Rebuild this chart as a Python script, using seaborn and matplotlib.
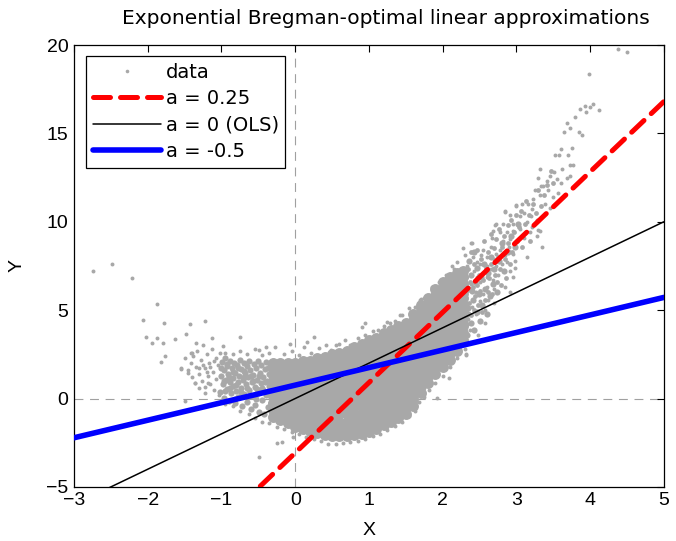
import matplotlib
matplotlib.use("Agg")
import matplotlib.pyplot as plt
import seaborn as sns
import pandas as pd
from matplotlib.lines import Line2D

# ---------------- data ----------------
# mottled parts of the cloud (left of x = -0.3 and right of x = 2.3)
medium_points = [
    (-1.02, 0.35), (-1.01, 1.25), (-0.99, 2.05), (-0.98, 0.8), (-0.97, 1.6),
    (-0.96, 0.05), (-0.95, 2.3), (-0.94, 1.05), (-0.93, 0.55), (-0.92, 1.85),
    (-0.91, 1.4), (-0.90, -0.15), (-0.89, 0.95), (-0.88, 2.15), (-0.87, 0.3),
    (-0.86, 1.7), (-0.85, 1.15), (-0.84, 0.7), (-0.83, 2.0), (-0.82, -0.25),
    (-0.81, 1.45), (-0.80, 0.45), (-0.79, 1.9), (-0.78, 0.95), (-0.77, 0.1),
    (-0.76, 1.25), (-0.75, 2.2), (-0.74, 0.6), (-0.73, 1.65), (-0.72, -0.4),
    (-0.71, 1.05), (-0.70, 2.0), (-0.69, 0.25), (-0.68, 1.45), (-0.67, 0.8),
    (-0.66, 1.85), (-0.65, -0.2), (-0.64, 1.2), (-0.63, 0.5), (-0.62, 2.15),
    (-0.61, 1.6), (-0.60, -0.6), (-0.59, 0.95), (-0.58, 0.15), (-0.57, 1.35),
    (-0.56, 1.95), (-0.55, 0.65), (-0.54, -0.35), (-0.53, 1.7), (-0.52, 1.05),
    (-0.51, 2.1), (-0.50, 0.3), (-0.49, -0.75), (-0.48, 1.45), (-0.47, 0.85),
    (-0.46, 1.9), (-0.45, -0.1), (-0.44, 1.2), (-0.43, 0.5), (-0.42, -0.9),
    (-0.41, 1.65), (-0.40, 2.05), (-0.39, 0.2), (-0.38, 1.0), (-0.37, -0.5),
    (-0.36, 1.4), (-0.35, 0.7), (-0.34, 1.85), (-0.33, -0.25), (-0.32, 1.15),
    (-0.31, -1.0), (-0.30, 0.45),
    (-0.97, 1.0), (-0.93, 1.95), (-0.89, 0.6), (-0.85, 1.5), (-0.81, 0.0),
    (-0.77, 1.7), (-0.73, 0.35), (-0.69, 1.2), (-0.65, 0.6), (-0.61, 0.2),
    (-0.57, 1.0), (-0.53, 0.0), (-0.49, 1.25), (-0.45, 0.6), (-0.41, 0.95),
    (-0.37, 1.75), (-0.33, 0.9), (-0.52, 0.55), (-0.60, 1.3), (-0.70, 1.55),
    (-0.80, 0.75), (-0.90, 1.2), (-1.00, 1.75), (-0.95, 0.4),
    (2.33, 3.6), (2.35, 5.1), (2.36, 6.2), (2.38, 4.3), (2.39, 7.0),
    (2.41, 5.6), (2.43, 3.9), (2.44, 6.6), (2.46, 4.9), (2.47, 7.4),
    (2.49, 5.9), (2.51, 4.4), (2.52, 6.9), (2.54, 5.3), (2.56, 7.6),
    (2.58, 6.2), (2.60, 4.8), (2.62, 7.1), (2.64, 5.8), (2.66, 8.0),
    (2.68, 6.5), (2.70, 7.3), (2.74, 6.0), (2.76, 7.8), (2.80, 8.8),
    (2.83, 7.2), (2.88, 8.3), (2.93, 9.2), (2.98, 8.6), (3.02, 9.9),
    (2.36, 7.8), (2.42, 8.3), (2.34, 4.8), (2.40, 6.1),
]

# the rising tail around the a = 0.25 line
tail_points = [
    (2.31, 5.9), (2.32, 6.9), (2.33, 4.2), (2.34, 7.3), (2.36, 5.4),
    (2.37, 6.6), (2.38, 8.3), (2.39, 4.7), (2.41, 6.3), (2.42, 5.0),
    (2.43, 7.6), (2.44, 5.8), (2.46, 6.4), (2.47, 8.4), (2.48, 5.3),
    (2.49, 7.0), (2.51, 6.1), (2.52, 7.9), (2.53, 4.9), (2.55, 6.7),
    (2.56, 8.9), (2.57, 5.6), (2.59, 7.4), (2.61, 6.0), (2.62, 8.3),
    (2.63, 6.8), (2.65, 9.3), (2.66, 7.6), (2.67, 5.9), (2.69, 8.5),
    (2.71, 7.0), (2.72, 9.0), (2.74, 6.6), (2.75, 8.0), (2.77, 9.6),
    (2.78, 7.3), (2.79, 6.4), (2.81, 8.6), (2.83, 9.2), (2.84, 7.9),
    (2.86, 6.8), (2.88, 9.8), (2.89, 8.8), (2.91, 7.6), (2.93, 10.1),
    (2.94, 8.3), (2.97, 9.4), (2.99, 10.4), (3.01, 8.9), (3.03, 9.7),
    (3.06, 10.6), (3.08, 8.6), (3.12, 9.9), (3.13, 11.2), (3.17, 10.4),
    (3.19, 8.9), (3.22, 11.0), (3.26, 10.5), (3.30, 11.8), (3.34, 10.9),
    (3.38, 11.5), (3.42, 12.1), (3.47, 12.9), (3.50, 12.2),
]

# dense core of the cloud: (x, [y values]) read column by column
core_columns = [
    (-0.30, [-1.05, -0.65, -0.25, 0.15, 0.55, 0.95, 1.35, 1.75, 2.0]),
    (-0.20, [-1.2, -0.8, -0.4, 0.0, 0.4, 0.8, 1.2, 1.6, 2.0]),
    (-0.10, [-1.4, -1.0, -0.6, -0.2, 0.2, 0.6, 1.0, 1.4, 1.8, 2.0]),
    (0.00, [-1.6, -1.2, -0.8, -0.4, 0.0, 0.4, 0.8, 1.2, 1.6, 2.0]),
    (0.10, [-1.7, -1.3, -0.9, -0.5, -0.1, 0.3, 0.7, 1.1, 1.5, 1.9, 2.1]),
    (0.20, [-1.85, -1.45, -1.05, -0.65, -0.25, 0.15, 0.55, 0.95, 1.35, 1.75, 2.15]),
    (0.30, [-1.95, -1.55, -1.15, -0.75, -0.35, 0.05, 0.45, 0.85, 1.25, 1.65, 2.05, 2.3]),
    (0.40, [-2.05, -1.65, -1.25, -0.85, -0.45, -0.05, 0.35, 0.75, 1.15, 1.55, 1.95, 2.35]),
    (0.50, [-2.1, -1.7, -1.3, -0.9, -0.5, -0.1, 0.3, 0.7, 1.1, 1.5, 1.9, 2.3, 2.5]),
    (0.60, [-2.1, -1.7, -1.3, -0.9, -0.5, -0.1, 0.3, 0.7, 1.1, 1.5, 1.9, 2.3, 2.6]),
    (0.70, [-2.1, -1.7, -1.3, -0.9, -0.5, -0.1, 0.3, 0.7, 1.1, 1.5, 1.9, 2.3, 2.7]),
    (0.80, [-2.05, -1.65, -1.25, -0.85, -0.45, -0.05, 0.35, 0.75, 1.15, 1.55, 1.95, 2.35, 2.75, 2.9]),
    (0.90, [-2.0, -1.6, -1.2, -0.8, -0.4, 0.0, 0.4, 0.8, 1.2, 1.6, 2.0, 2.4, 2.8, 3.1]),
    (1.00, [-1.9, -1.5, -1.1, -0.7, -0.3, 0.1, 0.5, 0.9, 1.3, 1.7, 2.1, 2.5, 2.9, 3.3]),
    (1.10, [-1.75, -1.35, -0.95, -0.55, -0.15, 0.25, 0.65, 1.05, 1.45, 1.85, 2.25, 2.65, 3.05, 3.45]),
    (1.20, [-1.5, -1.1, -0.7, -0.3, 0.1, 0.5, 0.9, 1.3, 1.7, 2.1, 2.5, 2.9, 3.3, 3.7]),
    (1.30, [-1.3, -0.9, -0.5, -0.1, 0.3, 0.7, 1.1, 1.5, 1.9, 2.3, 2.7, 3.1, 3.5, 3.9]),
    (1.40, [-1.1, -0.7, -0.3, 0.1, 0.5, 0.9, 1.3, 1.7, 2.1, 2.5, 2.9, 3.3, 3.7, 4.1]),
    (1.50, [-0.9, -0.5, -0.1, 0.3, 0.7, 1.1, 1.5, 1.9, 2.3, 2.7, 3.1, 3.5, 3.9, 4.3]),
    (1.60, [-0.4, 0.0, 0.4, 0.8, 1.2, 1.6, 2.0, 2.4, 2.8, 3.2, 3.6, 4.0, 4.4, 4.8]),
    (1.70, [0.3, 0.7, 1.1, 1.5, 1.9, 2.3, 2.7, 3.1, 3.5, 3.9, 4.3, 4.7, 5.1, 5.3]),
    (1.80, [0.9, 1.3, 1.7, 2.1, 2.5, 2.9, 3.3, 3.7, 4.1, 4.5, 4.9, 5.3, 5.7]),
    (1.90, [1.4, 1.8, 2.2, 2.6, 3.0, 3.4, 3.8, 4.2, 4.6, 5.0, 5.4, 5.8, 6.2]),
    (2.00, [1.8, 2.2, 2.6, 3.0, 3.4, 3.8, 4.2, 4.6, 5.0, 5.4, 5.8, 6.2, 6.6]),
    (2.10, [2.2, 2.6, 3.0, 3.4, 3.8, 4.2, 4.6, 5.0, 5.4, 5.8, 6.2, 6.6, 6.9]),
    (2.20, [2.7, 3.1, 3.5, 3.9, 4.3, 4.7, 5.1, 5.5, 5.9, 6.3, 6.7, 7.1]),
    (2.28, [3.3, 3.7, 4.1, 4.5, 4.9, 5.3, 5.7, 6.1, 6.5, 6.9, 7.2]),
]

# sparse individual points (edges, tails and outliers)
sparse_points = [
    # far-left tail
    (-2.74, 7.23), (-2.48, 7.61), (-2.22, 6.84), (-1.88, 5.33), (-2.06, 4.45),
    (-1.78, 4.26), (-1.43, 4.22), (-1.22, 4.41), (-2.02, 3.47), (-1.87, 3.45),
    (-1.94, 3.13), (-1.79, 3.13), (-1.63, 3.37), (-1.48, 3.65), (-1.34, 3.16),
    (-1.76, 2.41), (-1.82, 2.05), (-1.42, 2.60), (-1.55, 1.67), (-1.46, 1.43),
    (-1.50, -0.12), (-1.36, 0.87), (-1.23, 0.67),
    # left cluster
    (-1.45, 1.6), (-1.42, 2.0), (-1.40, 1.2), (-1.38, 2.4), (-1.36, 0.9),
    (-1.35, 1.8), (-1.33, 2.7), (-1.31, 1.4), (-1.30, 0.6), (-1.28, 2.2),
    (-1.26, 1.0), (-1.25, 3.0), (-1.23, 1.7), (-1.22, 0.3), (-1.20, 2.5),
    (-1.18, 1.3), (-1.17, 2.0), (-1.15, 0.8), (-1.13, 2.8), (-1.12, 1.5),
    (-1.10, 0.5), (-1.08, 2.3), (-1.07, 1.1), (-1.05, 1.9), (-1.04, 0.2),
    (-1.02, 2.6), (-1.25, 1.9), (-1.20, 1.5), (-1.15, 1.8), (-1.10, 2.1),
    (-1.30, 1.75), (-1.18, 0.9), (-1.40, 2.6), (-1.50, 2.3), (-1.55, 1.7),
    (-1.13, 3.41), (-0.98, 2.98), (-0.75, 3.50), (-0.40, 2.90), (-0.49, 2.75),
    # upper edge
    (-0.95, 2.6), (-0.85, 2.5), (-0.75, 2.7), (-0.65, 2.5), (-0.55, 2.8),
    (-0.45, 2.45), (-0.35, 2.6), (-0.28, 2.9), (-0.15, 2.5), (-0.05, 2.7),
    (0.05, 2.45), (0.12, 2.9), (0.22, 2.6), (0.32, 2.85), (0.42, 3.0),
    (0.48, 2.75), (0.60, 3.1), (0.68, 3.3), (0.75, 3.0), (0.85, 3.4),
    (0.95, 3.6), (1.05, 3.8), (1.12, 3.9), (1.20, 4.1), (1.28, 4.3),
    (1.35, 4.4), (1.45, 4.7), (1.55, 5.1), (1.62, 5.2), (1.75, 5.7),
    (1.85, 6.3), (1.95, 6.6), (2.05, 7.0), (2.15, 7.3),
    (0.16, 3.22), (0.25, 3.47), (-0.07, 3.09), (0.56, 3.03), (0.90, 4.03),
    (0.95, 4.26), (1.24, 4.35), (1.42, 4.73), (1.69, 5.58), (1.71, 5.63),
    (1.58, 4.73),
    # lower edge
    (-0.95, -0.3), (-0.85, -0.45), (-0.75, -0.7), (-0.62, -0.9), (-0.55, -1.1),
    (-0.45, -1.3), (-0.35, -1.4), (-0.25, -1.6), (-0.15, -1.75), (-0.05, -1.9),
    (0.05, -2.0), (0.15, -2.15), (0.25, -2.3), (0.35, -2.4), (0.45, -2.55),
    (0.55, -2.6), (0.65, -2.5), (0.75, -2.45), (0.85, -2.4), (0.95, -2.3),
    (1.05, -2.1), (1.15, -2.0), (1.25, -1.8), (1.35, -1.55), (1.45, -1.3),
    (1.55, -1.0), (1.62, -0.7), (1.68, -0.2), (1.75, 0.1), (1.82, 0.5),
    (1.90, 0.9), (2.00, 1.3), (2.10, 1.8), (2.20, 2.3), (2.30, 2.8),
    (-0.49, -3.30), (-0.25, -2.53), (-0.18, -2.44), (-0.03, -2.15), (1.92, 0.02),
    (2.08, 1.15), (2.32, 2.47), (2.37, 3.88), (2.57, 4.26), (2.32, 2.52),
    # upper-right tail
    (2.27, 8.5), (2.40, 8.8), (2.55, 8.4), (2.60, 8.0), (2.73, 8.2),
    (2.96, 8.2), (2.98, 7.8), (2.87, 7.7), (2.73, 7.5), (2.60, 7.5),
    (2.46, 7.7), (2.41, 8.0), (2.33, 7.5), (2.12, 7.5), (2.19, 6.9),
    (1.96, 6.1), (2.06, 6.0), (2.46, 6.9), (2.68, 6.7), (2.85, 6.3),
    (2.91, 6.0), (2.60, 6.3), (2.73, 9.9), (2.68, 9.5), (2.78, 9.4),
    (2.87, 9.4), (2.91, 9.0), (2.82, 8.9), (2.67, 9.1), (2.85, 10.6),
    (2.91, 10.4), (3.05, 10.3), (2.96, 9.9), (3.28, 10.1), (3.21, 9.7),
    (3.32, 9.5), (3.28, 9.2), (3.35, 8.6), (3.07, 11.0), (3.00, 10.9),
    (3.21, 10.7), (3.11, 10.5), (3.16, 11.0), (3.39, 11.0), (3.45, 10.8),
    (3.23, 11.3), (3.32, 11.5), (3.56, 11.6), (3.49, 11.4), (3.34, 12.0),
    (3.43, 11.8), (3.41, 12.3), (3.29, 12.5), (3.73, 12.6), (3.68, 12.5),
    (3.51, 12.8), (3.32, 13.0), (3.73, 13.2), (3.77, 13.2), (3.53, 13.8),
    (3.58, 13.8), (3.70, 13.8), (3.76, 14.2), (3.89, 14.9), (3.64, 15.1),
    (3.73, 15.3), (3.68, 15.6), (3.80, 15.9), (3.86, 16.4), (3.93, 16.55),
    (4.04, 16.65), (4.12, 16.3), (3.98, 18.36), (4.38, 19.77), (4.50, 19.6),
    (2.71, 9.82), (2.85, 10.57), (3.00, 10.95), (3.30, 9.54), (3.36, 12.0),
    (3.61, 12.2), (2.98, 7.37), (3.14, 8.03), (2.96, 6.9), (2.39, 8.82),
    (2.35, 4.5), (2.40, 5.2), (2.45, 6.0), (2.50, 5.5), (2.50, 6.6),
    (2.55, 7.1), (2.45, 4.8), (2.55, 5.9), (2.60, 6.9), (2.65, 7.3),
    (2.70, 7.9), (2.62, 5.6), (2.70, 6.2), (2.75, 7.0), (2.80, 7.6),
    (2.78, 8.4), (2.85, 8.1), (2.90, 8.6), (2.92, 7.2), (2.50, 7.6),
    (2.42, 7.2), (2.38, 6.5), (2.52, 8.1), (2.65, 8.6), (2.82, 9.9),
    (2.95, 9.5), (3.05, 9.6), (3.10, 9.1), (3.15, 10.0), (3.20, 10.3),
    (3.25, 11.8), (3.18, 9.4), (3.45, 12.6), (3.55, 12.4), (3.62, 13.0),
    (3.60, 14.1), (3.85, 15.1), (3.95, 16.2), (4.00, 16.5), (2.30, 8.1),
    (2.20, 7.7), (2.48, 3.6), (2.58, 5.0), (2.70, 5.4),
]

# fitted lines (end points read at x = -3 and x = 5)
line_x = [-3.0, 5.0]
fit_025_y = [-15.0, 16.8]    # a = 0.25
fit_0_y = [-6.0, 10.0]       # a = 0 (OLS)
fit_m05_y = [-2.22, 5.72]    # a = -0.5

legend_labels = ["data", "a = 0.25", "a = 0 (OLS)", "a = -0.5"]
x_ticks = [-3, -2, -1, 0, 1, 2, 3, 4, 5]
y_ticks = [-5, 0, 5, 10, 15, 20]

# ---------------- plotting ----------------
sns.set_theme(style="white")
plt.rcParams["font.family"] = ["Liberation Sans", "DejaVu Sans"]
plt.rcParams["text.color"] = "black"
plt.rcParams["axes.labelcolor"] = "black"

medium_df = pd.DataFrame(medium_points, columns=["x", "y"])
tail_df = pd.DataFrame(tail_points, columns=["x", "y"])
core_df = pd.DataFrame(
    [(cx, cy) for cx, ys in core_columns for cy in ys], columns=["x", "y"]
)
sparse_df = pd.DataFrame(sparse_points, columns=["x", "y"])

fig = plt.figure(figsize=(6.76, 5.41), dpi=100)
ax = fig.add_axes([0.1095, 0.100, 0.8725, 0.8168])

gray = "#a8a8a8"
ax.axvline(0, color="#a0a0a0", lw=0.8, dashes=(8, 6), zorder=0)
ax.axhline(0, color="#a0a0a0", lw=0.8, dashes=(8, 6), zorder=0)

sns.scatterplot(data=medium_df, x="x", y="y", ax=ax, color=gray, s=20,
                linewidth=0, zorder=1, legend=False)
sns.scatterplot(data=tail_df, x="x", y="y", ax=ax, color=gray, s=12,
                linewidth=0, zorder=1, legend=False)
sns.scatterplot(data=core_df, x="x", y="y", ax=ax, color=gray, s=62,
                linewidth=0, zorder=1, legend=False)
sns.scatterplot(data=sparse_df, x="x", y="y", ax=ax, color=gray, s=8,
                linewidth=0, zorder=1, legend=False)

l1, = ax.plot(line_x, fit_025_y, color="red", lw=3.6, dashes=(3.4, 2.0),
              solid_capstyle="butt", dash_capstyle="round", zorder=3)
l2, = ax.plot(line_x, fit_0_y, color="black", lw=1.1, zorder=3)
l3, = ax.plot(line_x, fit_m05_y, color="blue", lw=4.0, zorder=3)

ax.set_xlim(-3, 5)
ax.set_ylim(-5, 20)
ax.set_xticks(x_ticks)
ax.set_yticks(y_ticks)
ax.tick_params(direction="in", length=5, width=0.8, top=True, right=True,
               labelsize=14, colors="black", pad=4)
for sp in ax.spines.values():
    sp.set_visible(True)
    sp.set_color("black")
    sp.set_linewidth(0.9)

ax.set_xlabel("X", fontsize=14, labelpad=9, color="black")
ax.set_ylabel("Y", fontsize=14, labelpad=15, color="black")
fig.text(0.571, 0.955, "Exponential Bregman-optimal linear approximations",
         ha="center", va="baseline", fontsize=14.5, family="DejaVu Sans",
         color="black")

data_handle = Line2D([], [], linestyle="none", marker="o", markersize=2.6,
                     markerfacecolor=gray, markeredgewidth=0)
leg = ax.legend([data_handle, l1, l2, l3], legend_labels,
                loc="upper left", bbox_to_anchor=(0.02, 0.975),
                borderaxespad=0, frameon=True, fancybox=False,
                prop={"family": "DejaVu Sans", "size": 14},
                handlelength=3.5, handletextpad=0.25, labelspacing=0.38,
                borderpad=0.35)
leg.get_frame().set_edgecolor("black")
leg.get_frame().set_linewidth(0.9)
leg.get_frame().set_alpha(1)
for t in leg.get_texts():
    t.set_color("black")

fig.savefig("out.png", dpi=100)
